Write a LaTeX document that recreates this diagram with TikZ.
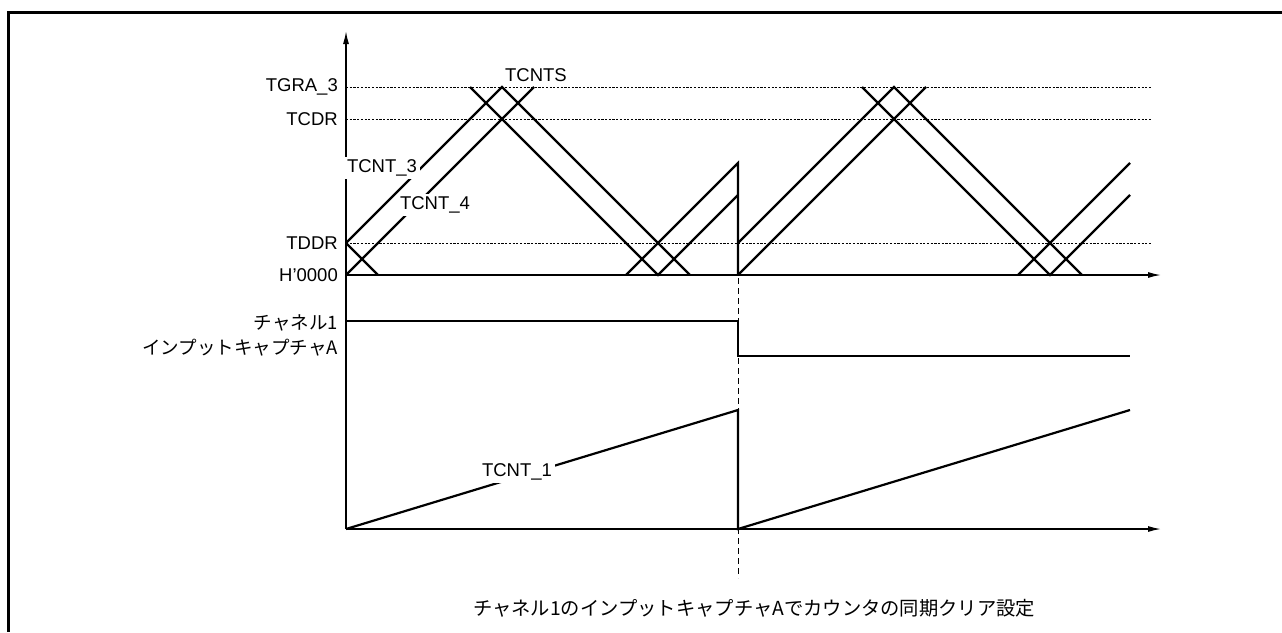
\documentclass[tikz,border=0pt]{standalone}
\usepackage{fontspec}
\setmainfont{Liberation Sans}
\newfontfamily\jp{Noto Sans CJK JP}
\usetikzlibrary{arrows.meta}
\tikzset{
  wave/.style={line width=2.2pt, line join=miter, line cap=butt},
  axisline/.style={line width=1.4pt, -{Latex[length=13pt,width=6pt]}},
  guide/.style={line width=1pt, dash pattern=on 2.2pt off 1.5pt, black},
  marker/.style={line width=1pt, dash pattern=on 6pt off 4pt},
  frameline/.style={line width=2.7pt},
  lbl/.style={font=\fontsize{18.5}{22}\selectfont, inner sep=0pt},
  jlbl/.style={font=\jp\fontsize{18.5}{22}\selectfont, inner sep=0pt},
  jcap/.style={font=\jp\fontsize{19.3}{23}\selectfont, inner sep=0pt},
  cut/.style={lbl, fill=white, inner sep=3pt}
}
\begin{document}
\begin{tikzpicture}[x=1pt,y=-1pt]
\useasboundingbox (0,0) rectangle (1282,632);
% frame
\coordinate (fr) at (1282,12.7);
\coordinate (fc) at (8.7,12.7);
\coordinate (fb) at (8.7,632);
\draw[frameline] (fr) -- (fc) -- (fb);
% axes
\coordinate (o2) at (346,529);
\coordinate (o1) at (346,275);
\coordinate (ytop) at (346,31);
\coordinate (x1end) at (1161,275);
\coordinate (x2end) at (1161,529);
% guide lines
\coordinate (ga) at (346,87);  \coordinate (gae) at (1152,87);
\coordinate (gc) at (346,119); \coordinate (gce) at (1152,119);
\coordinate (gd) at (346,243); \coordinate (gde) at (1152,243);
\draw[guide] (ga) -- (gae);
\draw[guide] (gc) -- (gce);
\draw[guide] (gd) -- (gde);
% marker line
\coordinate (mt) at (738,278);
\coordinate (mb) at (738,578);
\draw[marker] (mt) -- (mb);
\draw[axisline] (o2) -- (ytop);
\draw[axisline] (o1) -- (x1end);
\draw[axisline] (o2) -- (x2end);
% upper waveforms, period 1
\coordinate (p1) at (346,243); \coordinate (p2) at (378,275);
\coordinate (p3) at (346,275); \coordinate (p4) at (534,87);
\coordinate (p5) at (502,87);  \coordinate (p6) at (690,275);
\coordinate (p7) at (470,87);  \coordinate (p8) at (658,275); \coordinate (p9) at (738,195);
\coordinate (p10) at (626,275); \coordinate (p11) at (738,163);
\coordinate (p12) at (738,275);
\draw[wave] (p1) -- (p2);
\draw[wave] (p3) -- (p4);
\draw[wave] (p1) -- (p5) -- (p6);
\draw[wave] (p7) -- (p8) -- (p9);
\draw[wave] (p10) -- (p11) -- (p12);
% period 2
\coordinate (q1) at (738,243); \coordinate (q2) at (894,87); \coordinate (q3) at (1082,275);
\coordinate (q4) at (926,87);
\coordinate (q5) at (862,87); \coordinate (q6) at (1050,275); \coordinate (q7) at (1130,195);
\coordinate (q8) at (1018,275); \coordinate (q9) at (1130,163);
\draw[wave] (q1) -- (q2) -- (q3);
\draw[wave] (p12) -- (q4);
\draw[wave] (q5) -- (q6) -- (q7);
\draw[wave] (q8) -- (q9);
% input capture
\coordinate (c1) at (346,321); \coordinate (c2) at (738,321);
\coordinate (c3) at (738,356); \coordinate (c4) at (1130,356);
\draw[wave] (c1) -- (c2) -- (c3) -- (c4);
% TCNT_1
\coordinate (t1) at (738,410); \coordinate (t2) at (738,529); \coordinate (t3) at (1130,410);
\draw[wave] (o2) -- (t1) -- (t2) -- (t3);
% labels
\node[lbl, anchor=east] (lga) at (338,87) {TGRA\_3};
\node[lbl, anchor=east] (lgc) at (338,119) {TCDR};
\node[lbl, anchor=east] (lgd) at (338,243) {TDDR};
\node[lbl, anchor=east] (lgh) at (338,275) {H'0000};
\node[lbl] (lts) at (536,75) {TCNTS};
\node[cut] (lt3) at (382,168) {TCNT\_3};
\node[cut] (lt4) at (435,205) {TCNT\_4};
\node[cut] (lt1) at (517,472) {TCNT\_1};
\node[jlbl, anchor=east] (lch) at (338,323) {チャネル1};
\node[jlbl, anchor=east] (lic) at (338,348) {インプットキャプチャA};
\node[jcap, anchor=west] (cap) at (473,608) {チャネル1のインプットキャプチャAでカウンタの同期クリア設定};
\end{tikzpicture}
\end{document}
